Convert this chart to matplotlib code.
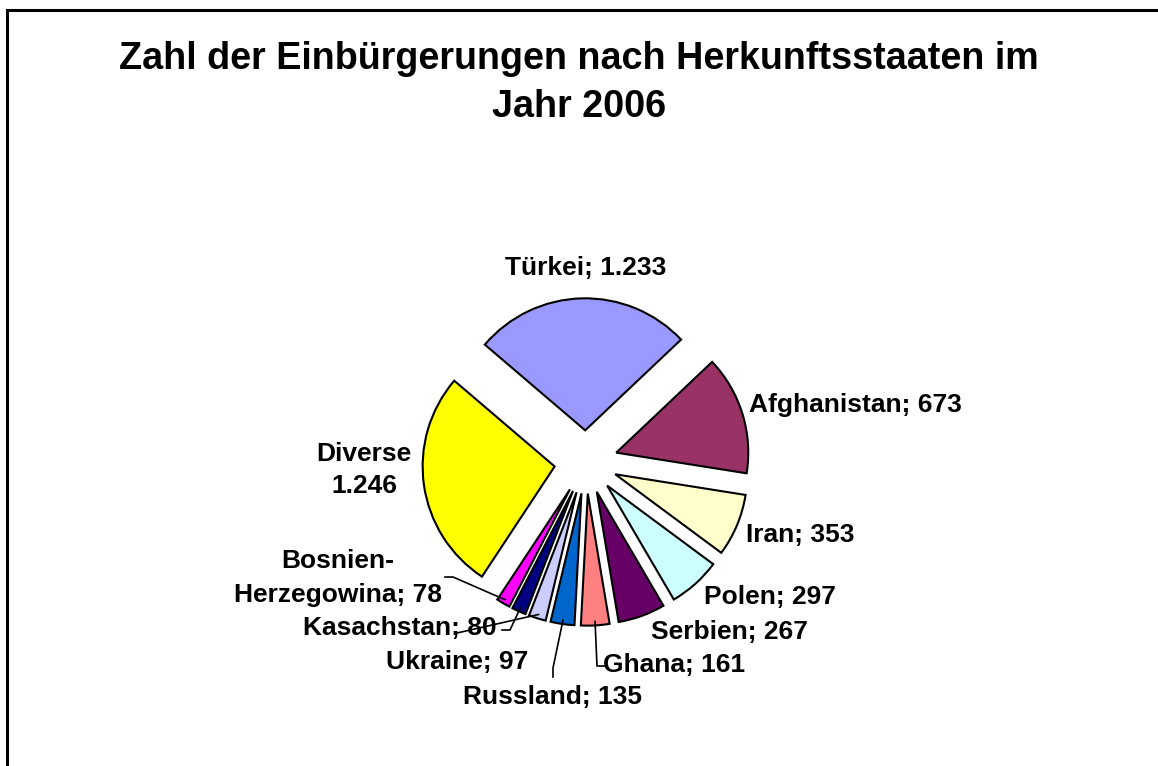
import matplotlib
matplotlib.use('Agg')
import matplotlib.pyplot as plt
import numpy as np
from matplotlib.patches import Rectangle

plt.rcParams['font.family'] = ['Liberation Sans', 'DejaVu Sans']

# data
countries = ['Türkei', 'Afghanistan', 'Iran', 'Polen', 'Serbien', 'Ghana',
             'Russland', 'Ukraine', 'Kasachstan', 'Bosnien-Herzegowina', 'Diverse']
counts = [1233, 673, 353, 297, 267, 161, 135, 97, 80, 78, 1246]
label_texts = ['Türkei; 1.233', 'Afghanistan; 673', 'Iran; 353', 'Polen; 297',
               'Serbien; 267', 'Ghana; 161', 'Russland; 135', 'Ukraine; 97',
               'Kasachstan; 80', 'Bosnien-\nHerzegowina; 78', 'Diverse\n1.246']
colors = ['#9999FF', '#993366', '#FFFFCC', '#CCFFFF', '#660066', '#FF8080',
          '#0066CC', '#CCCCFF', '#000080', '#FF00FF', '#FFFF00']
title = 'Zahl der Einbürgerungen nach Herkunftsstaaten im\nJahr 2006'

W, H = 1158, 766
CX, CY, R = 586, 462, 132   # pie centre / radius in pixels

fig = plt.figure(figsize=(W / 100, H / 100), dpi=100)
ax = fig.add_axes([0, 0, 1, 1])


def px(x, y):
    # pixel position (from top-left) -> data units (pie radius = 1)
    return (x - CX) / R, (CY - y) / R


wedges, _ = ax.pie(counts, colors=colors, startangle=139.5, counterclock=False,
                   radius=1, center=(0, 0), explode=[0.24] * len(counts),
                   wedgeprops=dict(edgecolor='black', linewidth=1.5))

x0, y0 = px(0, 0)
x1, y1 = px(W, H)
ax.set_xlim(x0, x1)
ax.set_ylim(y1, y0)
ax.set_aspect('equal')
ax.axis('off')

# label positions (pixel centres) and line spacing
label_pos = {
    'Türkei': (586, 268), 'Afghanistan': (855, 405), 'Iran': (800, 535),
    'Polen': (770, 597), 'Serbien': (729, 632), 'Ghana': (674, 665),
    'Russland': (553, 697), 'Ukraine': (457, 662), 'Kasachstan': (400, 628),
    'Bosnien-Herzegowina': (338, 578), 'Diverse': (364, 470),
}
spacing = {'Bosnien-Herzegowina': 1.55, 'Diverse': 1.38}

for name, txt in zip(countries, label_texts):
    x, y = px(*label_pos[name])
    ax.text(x, y, txt, ha='center', va='center', fontsize=19, fontweight='bold',
            linespacing=spacing.get(name, 1.2))


def anchor(w):
    t = np.deg2rad((w.theta1 + w.theta2) / 2)
    return w.center[0] + w.r * 0.97 * np.cos(t), w.center[1] + w.r * 0.97 * np.sin(t)


# leader lines: elbow points in pixels, end on the slice
leaders = {
    'Bosnien-Herzegowina': [(445, 577), (453, 577)],
    'Kasachstan': [(502, 630), (510, 630)],
    'Ukraine': [(457, 633)],
    'Russland': [(553, 677), (553, 668)],
    'Ghana': [(604, 666), (597, 666)],
}
for name, pts in leaders.items():
    w = wedges[countries.index(name)]
    xs = [px(*p)[0] for p in pts] + [anchor(w)[0]]
    ys = [px(*p)[1] for p in pts] + [anchor(w)[1]]
    ax.plot(xs, ys, color='black', lw=1.2)

fig.text(0.5, 1 - 83 / H, title, ha='center', va='center', fontsize=27.2,
         fontweight='bold', linespacing=1.42)

# chart-area border (top and left visible)
fig.add_artist(Rectangle((7 / W, -0.1), 1.2, 1.1 - 10 / H, transform=fig.transFigure,
                         fill=False, edgecolor='black', linewidth=2.2))

fig.savefig('out.png', dpi=100, facecolor='white')
